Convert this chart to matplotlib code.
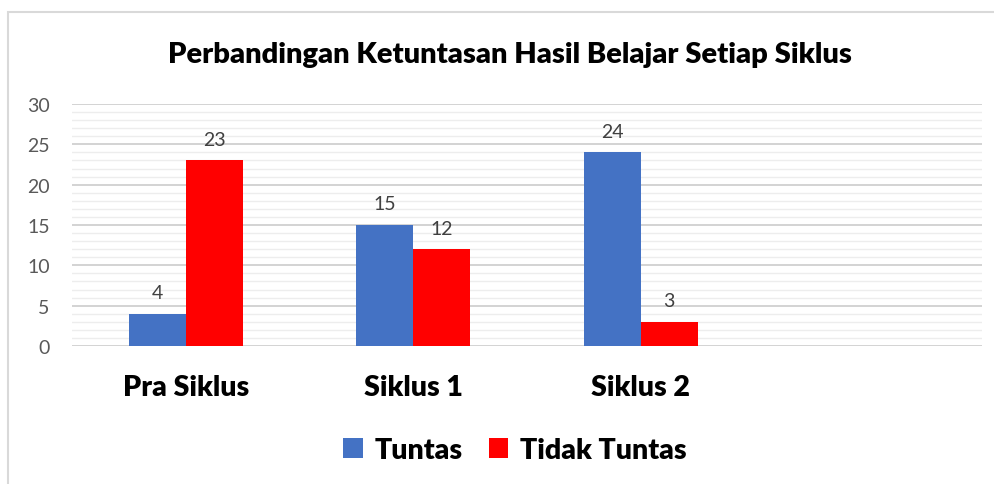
import matplotlib.pyplot as plt
from matplotlib.patches import Rectangle
import numpy as np

plt.rcParams['font.family'] = ['Lato', 'DejaVu Sans']

categories = ["Pra Siklus", "Siklus 1", "Siklus 2", ""]
tuntas = [4, 15, 24, None]
tidak_tuntas = [23, 12, 3, None]
series_names = ["Tuntas", "Tidak Tuntas"]
colors = ["#4472C4", "#FF0000"]

fig = plt.figure(figsize=(9.95, 4.85), dpi=100)
# outer chart frame (partly cropped like the original screenshot)
fig.patches.append(Rectangle((8 / 995, -0.1), 1.1, 1 - 13 / 485 + 0.1,
                             transform=fig.transFigure, fill=False,
                             edgecolor="#D9D9D9", linewidth=1.5))

ax = fig.add_axes([72 / 995, 1 - 347 / 485, (982 - 72) / 995, (347 - 105) / 485])

x = np.arange(len(categories))
w = 0.25
vals_a = [v if v is not None else 0 for v in tuntas]
vals_b = [v if v is not None else 0 for v in tidak_tuntas]
bars_a = ax.bar(x - w / 2, vals_a, w, color=colors[0], label=series_names[0], zorder=3)
bars_b = ax.bar(x + w / 2, vals_b, w, color=colors[1], label=series_names[1], zorder=3)

for bars, vals in ((bars_a, tuntas), (bars_b, tidak_tuntas)):
    for b, v in zip(bars, vals):
        if v is None:
            continue
        ax.annotate(str(v), (b.get_x() + b.get_width() / 2, v), xytext=(0, 9),
                    textcoords="offset points", ha="center", va="bottom",
                    fontsize=14, color="#404040")

ax.set_xlim(-0.5, len(categories) - 0.5)
ax.set_ylim(0, 30)
ax.set_yticks(range(0, 31, 5))
ax.set_yticks(range(0, 31, 1), minor=True)
ax.grid(axis="y", which="major", color="#D0D0D0", linewidth=1.3, zorder=0)
ax.grid(axis="y", which="minor", color="#EDEDED", linewidth=1.0, zorder=0)
ax.set_axisbelow(True)
for s in ax.spines.values():
    s.set_visible(False)
ax.tick_params(axis="y", which="both", length=0, labelsize=14, labelcolor="#595959", pad=16)
ax.tick_params(axis="x", length=0, pad=20)
ax.set_xticks(x)
ax.set_xticklabels(categories, fontsize=20.5, fontweight="heavy", color="black")

fig.text(510 / 995, 1 - 55 / 485, "Perbandingan Ketuntasan Hasil Belajar Setiap Siklus",
         ha="center", va="center", fontsize=21, fontweight="heavy")

fig.legend(handles=[bars_a, bars_b], labels=series_names, loc="center",
           bbox_to_anchor=(515 / 995, 1 - 451 / 485), ncol=2, frameon=False,
           prop={"size": 20.5, "weight": "heavy"}, handlelength=0.7, handleheight=0.7,
           handletextpad=0.4, columnspacing=0.9)

fig.savefig("out.png", dpi=100, facecolor="white")
